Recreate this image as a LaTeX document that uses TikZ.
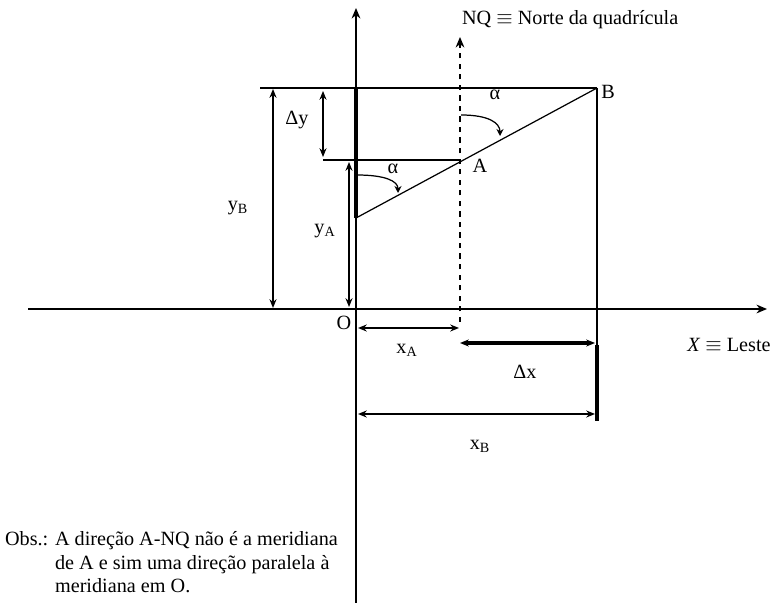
\documentclass[tikz,border=0pt]{standalone}
\usepackage{fontspec}
\setmainfont{Liberation Serif}
\usetikzlibrary{arrows.meta}

\begin{document}
\begin{tikzpicture}[x=0.2mm, y=-0.2mm, font=\fontsize{11.5}{11}\selectfont,
  eixo/.style={line width=0.9pt, -{Stealth[length=6pt,width=5pt]}},
  cota/.style={line width=0.8pt, {Stealth[length=5pt,width=4pt]}-{Stealth[length=5pt,width=4pt]}},
  giro/.style={line width=0.7pt, -{Stealth[length=4pt,width=4pt]}},
  rotulo/.style={inner sep=1pt}]
  \useasboundingbox (0,0) rectangle (773,603);
  % pontos principais
  \coordinate (O) at (356,309);
  \coordinate (A) at (460,160);
  \coordinate (B) at (597,88);
  \coordinate (P) at (356,218);
  % eixos
  \coordinate (Xesq) at (28,309);
  \coordinate (Xdir) at (767,309);
  \coordinate (Ybot) at (356,603);
  \coordinate (Ytop) at (356,8);
  \coordinate (Ytopo) at (356,88);
  \draw[eixo] (Xesq) -- (Xdir);
  \draw[eixo] (Ybot) -- (Ytop);
  \draw[line width=2pt] (Ytopo) -- (P);
  % norte da quadricula
  \coordinate (NQbot) at (460,322);
  \coordinate (NQtop) at (460,37);
  \draw[eixo, line width=0.7pt, dashed] (NQbot) -- (NQtop);
  % linhas de referencia
  \coordinate (Hesq) at (260,88);
  \coordinate (Aesq) at (323,160);
  \coordinate (Bmeio) at (597,345);
  \coordinate (Bbot) at (597,421);
  \draw[line width=1.2pt] (Hesq) -- (B);
  \draw[line width=1.2pt] (Aesq) -- (A);
  \draw[line width=1.2pt] (B) -- (Bmeio);
  \draw[line width=2pt] (Bmeio) -- (Bbot);
  \draw[line width=0.7pt] (P) -- (B);
  % cotas
  \coordinate (yB1) at (273,89);
  \coordinate (yB2) at (273,308);
  \coordinate (dy1) at (323,91);
  \coordinate (dy2) at (323,157);
  \coordinate (yA1) at (349,162);
  \coordinate (yA2) at (349,307);
  \coordinate (xA1) at (358,328);
  \coordinate (xA2) at (459,328);
  \coordinate (dx1) at (460,343);
  \coordinate (dx2) at (595,343);
  \coordinate (xB1) at (358,414);
  \coordinate (xB2) at (595,414);
  \draw[cota, line width=1pt] (yB1) -- (yB2);
  \draw[cota, line width=0.6pt] (dy1) -- (dy2);
  \draw[cota] (yA1) -- (yA2);
  \draw[cota] (xA1) -- (xA2);
  \draw[cota, line width=1.8pt] (dx1) -- (dx2);
  \draw[cota] (xB1) -- (xB2);
  % angulos
  \coordinate (g1a) at (357,175);
  \coordinate (g1b) at (398,193);
  \coordinate (g2a) at (461,115);
  \coordinate (g2b) at (500,136);
  \draw[giro] (g1a) .. controls (385,175) and (398,181) .. (g1b);
  \draw[giro] (g2a) .. controls (489,115) and (500,123) .. (g2b);
  % rotulos
  \node[rotulo, anchor=west] (nq) at (460,20) {NQ $\equiv$ Norte da quadrícula};
  \node[rotulo] (lB) at (608,92) {B};
  \node[rotulo] (lA) at (480,166) {A};
  \node[rotulo] (lO) at (344,323) {O};
  \node[rotulo] (a1) at (495,95) {α};
  \node[rotulo] (a2) at (393,169) {α};
  \node[rotulo] (lyB) at (238,208) {y\textsubscript{B}};
  \node[rotulo] (ldy) at (297,120) {Δy};
  \node[rotulo] (lyA) at (325,231) {y\textsubscript{A}};
  \node[rotulo] (lxA) at (407,350) {x\textsubscript{A}};
  \node[rotulo] (ldx) at (525,372) {Δx};
  \node[rotulo] (lxB) at (480,446) {x\textsubscript{B}};
  \node[rotulo] (leste) at (729,345) {\textit{X} $\equiv$ Leste};
  \node[rotulo, anchor=west] (obs) at (3,565)
    {\begin{tabular}{@{}l@{ }l@{}}
      Obs.: & A direção A-NQ não é a meridiana\\[2pt]
            & de A e sim uma direção paralela à\\[2pt]
            & meridiana em O.
    \end{tabular}};
\end{tikzpicture}
\end{document}
